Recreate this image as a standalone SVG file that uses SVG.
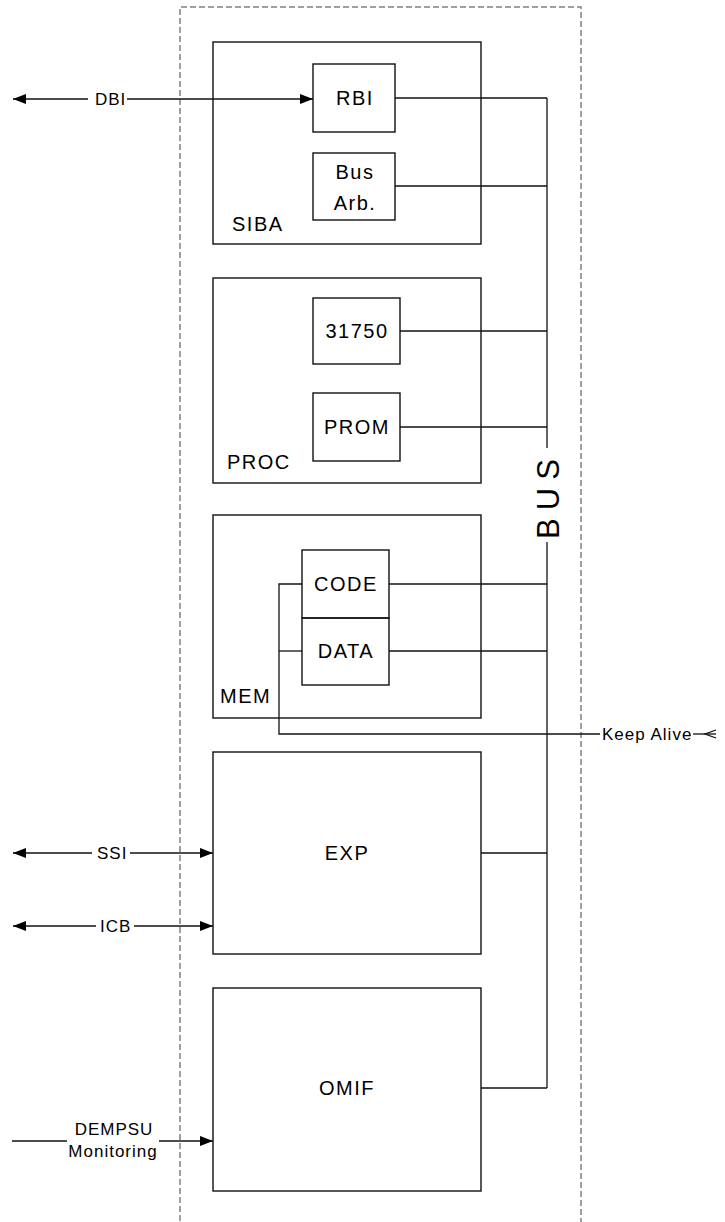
<svg xmlns="http://www.w3.org/2000/svg" width="725" height="1222" viewBox="0 0 725 1222">
<defs>
<style>
.frame{fill:none;stroke:#808080;stroke-width:1.5;stroke-dasharray:6 3}
.box{fill:none;stroke:#111;stroke-width:1.4}
.ln{fill:none;stroke:#111;stroke-width:1.3}
.t{font-family:"Liberation Sans",Arial,sans-serif;fill:#000}
.bl{font-size:20px;letter-spacing:1.5px}
.el{font-size:17px;letter-spacing:1px}
.mid{text-anchor:middle}
</style>
<marker id="ah" viewBox="0 0 13 10" refX="13" refY="5" markerWidth="13" markerHeight="10" markerUnits="userSpaceOnUse" orient="auto-start-reverse">
<path d="M0,0 L13,5 L0,10 Z" fill="#000"/>
</marker>
</defs>
<rect width="725" height="1222" fill="#fff"/>
<path class="frame" d="M180,1230 V7 H581 V1230"/>

<g id="connectors">
<line class="ln" x1="547" y1="98" x2="547" y2="448"/>
<line class="ln" x1="547" y1="542" x2="547" y2="1088"/>
<line class="ln" x1="395" y1="98" x2="547" y2="98"/>
<line class="ln" x1="395" y1="186" x2="547" y2="186"/>
<line class="ln" x1="400" y1="331" x2="547" y2="331"/>
<line class="ln" x1="400" y1="427" x2="547" y2="427"/>
<line class="ln" x1="389" y1="584" x2="547" y2="584"/>
<line class="ln" x1="389" y1="651" x2="547" y2="651"/>
<line class="ln" x1="481" y1="853" x2="547" y2="853"/>
<line class="ln" x1="481" y1="1088" x2="547" y2="1088"/>
<path class="ln" d="M302,584 H279 V734 H600"/>
<line class="ln" x1="279" y1="651" x2="302" y2="651"/>
<line class="ln" x1="693" y1="734" x2="716" y2="734"/>
<polyline class="ln" points="716,730 705,734 716,738"/>
<line class="ln" x1="13" y1="99" x2="88" y2="99" marker-start="url(#ah)"/>
<line class="ln" x1="127" y1="99" x2="313" y2="99" marker-end="url(#ah)"/>
<line class="ln" x1="13" y1="853" x2="92" y2="853" marker-start="url(#ah)"/>
<line class="ln" x1="130" y1="853" x2="213" y2="853" marker-end="url(#ah)"/>
<line class="ln" x1="13" y1="926" x2="96" y2="926" marker-start="url(#ah)"/>
<line class="ln" x1="134" y1="926" x2="213" y2="926" marker-end="url(#ah)"/>
<line class="ln" x1="12" y1="1141" x2="67" y2="1141"/>
<line class="ln" x1="159" y1="1141" x2="213" y2="1141" marker-end="url(#ah)"/>
</g>

<g id="bus-label">
<text class="t mid" font-size="31" letter-spacing="8" transform="translate(559,495) rotate(-90)">BUS</text>
</g>

<g id="SIBA">
<rect class="box" x="213" y="42" width="268" height="202"/>
<text class="t bl" x="232" y="231">SIBA</text>
</g>
<g id="RBI">
<rect class="box" x="313" y="64" width="82" height="68"/>
<text class="t bl mid" x="355" y="105">RBI</text>
</g>
<g id="BusArb">
<rect class="box" x="313" y="153" width="82" height="67"/>
<text class="t bl mid" x="355" y="179">Bus</text>
<text class="t bl mid" x="355" y="210">Arb.</text>
</g>

<g id="PROC">
<rect class="box" x="213" y="278" width="268" height="205"/>
<text class="t bl" x="227" y="469">PROC</text>
</g>
<g id="n31750">
<rect class="box" x="313" y="298" width="87" height="66"/>
<text class="t bl mid" x="357" y="338">31750</text>
</g>
<g id="PROM">
<rect class="box" x="313" y="393" width="87" height="68"/>
<text class="t bl mid" x="357" y="434">PROM</text>
</g>

<g id="MEM">
<rect class="box" x="213" y="515" width="268" height="203"/>
<text class="t bl" x="220" y="703">MEM</text>
</g>
<g id="CODE">
<rect class="box" x="302" y="550" width="87" height="68"/>
<text class="t bl mid" x="346" y="591">CODE</text>
</g>
<g id="DATA">
<rect class="box" x="302" y="618" width="87" height="67"/>
<text class="t bl mid" x="346" y="658">DATA</text>
</g>

<g id="EXP">
<rect class="box" x="213" y="752" width="268" height="202"/>
<text class="t bl mid" x="347" y="860" letter-spacing="4">EXP</text>
</g>

<g id="OMIF">
<rect class="box" x="213" y="988" width="268" height="203"/>
<text class="t bl mid" x="347" y="1095" letter-spacing="4">OMIF</text>
</g>

<g id="labels">
<text class="t el" x="95" y="105">DBI</text>
<text class="t el" x="97" y="859">SSI</text>
<text class="t el" x="100" y="932">ICB</text>
<text class="t el mid" x="114" y="1135" letter-spacing="2">DEMPSU</text>
<text class="t el mid" x="113" y="1157">Monitoring</text>
<text class="t el" x="602" y="740">Keep Alive</text>
</g>
</svg>
